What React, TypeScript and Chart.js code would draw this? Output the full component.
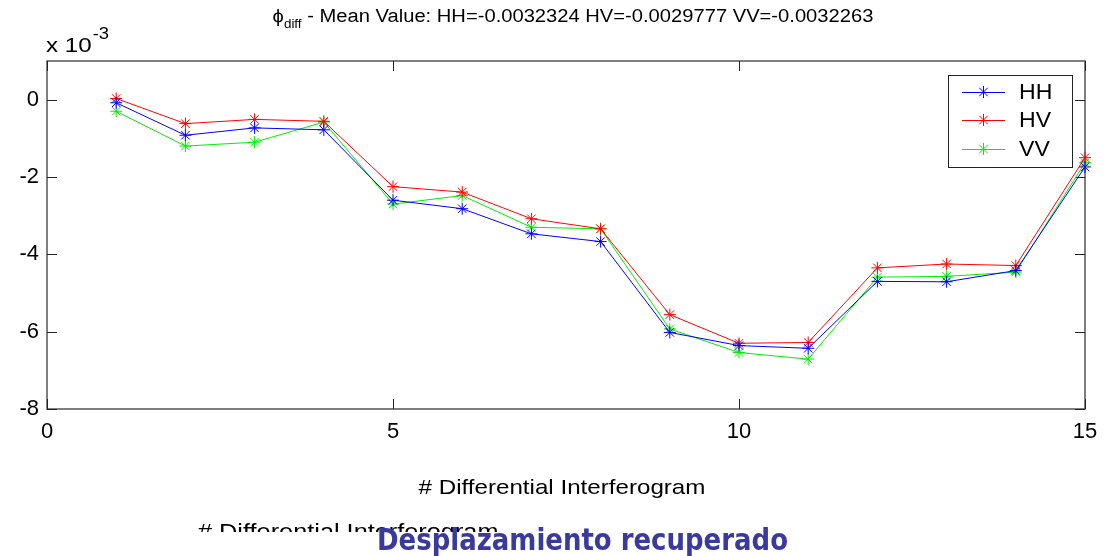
import React, { useEffect, useRef } from "react";
import { Chart, registerables } from "chart.js";

Chart.register(...registerables);

const interferograms = [1, 2, 3, 4, 5, 6, 7, 8, 9, 10, 11, 12, 13, 14, 15];
// values in units of 10^-3
const hhValues = [-0.08, -0.92, -0.73, -0.78, -2.6, -2.82, -3.47, -3.67, -6.02, -6.36, -6.43, -4.7, -4.71, -4.42, -1.74];
const hvValues = [0.03, -0.62, -0.51, -0.56, -2.25, -2.39, -3.08, -3.34, -5.56, -6.3, -6.28, -4.35, -4.25, -4.29, -1.5];
const vvValues = [-0.3, -1.2, -1.1, -0.58, -2.7, -2.48, -3.3, -3.34, -5.93, -6.54, -6.71, -4.59, -4.57, -4.46, -1.63];
const seriesNames = ["HH", "HV", "VV"];
const seriesColors = ["#0000ff", "#ff0000", "#00ee00"];
const xTicks = [0, 5, 10, 15];
const yTicks = [-8, -6, -4, -2, 0];
const titleMeans = ["-0.0032324", "-0.0029777", "-0.0032263"];

const FONT = "'Liberation Sans', Arial, sans-serif";
const SX = 1.15; // horizontal stretch of the text in the reference
const TITLE_SX = 1.12;

function stretchedText(ctx: any, text: string, x: number, y: number, align: string, sx: number) {
  const w = ctx.measureText(text).width * sx;
  let left = x;
  if (align === "center") left = x - w / 2;
  else if (align === "right") left = x - w;
  ctx.save();
  ctx.textAlign = "left";
  ctx.translate(left, y);
  ctx.scale(sx, 1);
  ctx.fillText(text, 0, 0);
  ctx.restore();
  return w;
}

const decorPlugin = {
  id: "decor",
  beforeDatasetsDraw(chart: any) {
    const { ctx, chartArea: a, scales } = chart;
    ctx.save();
    ctx.strokeStyle = "#555";
    ctx.lineWidth = 1.5;
    ctx.strokeRect(a.left, a.top, a.right - a.left, a.bottom - a.top);
    ctx.lineWidth = 1;
    ctx.strokeStyle = "#222";
    const tl = 10;
    for (const v of xTicks) {
      const x = Math.round(scales.x.getPixelForValue(v)) + 0.5;
      ctx.beginPath();
      ctx.moveTo(x, a.bottom);
      ctx.lineTo(x, a.bottom - tl);
      ctx.moveTo(x, a.top);
      ctx.lineTo(x, a.top + tl);
      ctx.stroke();
    }
    for (const v of yTicks) {
      const y = Math.round(scales.y.getPixelForValue(v)) + 0.5;
      ctx.beginPath();
      ctx.moveTo(a.left, y);
      ctx.lineTo(a.left + tl, y);
      ctx.moveTo(a.right, y);
      ctx.lineTo(a.right - tl, y);
      ctx.stroke();
    }
    ctx.restore();
  },
  afterDraw(chart: any) {
    const { ctx } = chart;
    ctx.save();
    ctx.fillStyle = "#000";
    ctx.textBaseline = "alphabetic";
    ctx.textAlign = "left";

    // Title
    const mainFont = `18px ${FONT}`;
    const subFont = `12px ${FONT}`;
    const rest = ` - Mean Value: HH=${titleMeans[0]} HV=${titleMeans[1]} VV=${titleMeans[2]}`;
    ctx.font = mainFont;
    const wPhi = ctx.measureText("\u03d5").width * TITLE_SX;
    const wRest = ctx.measureText(rest).width * TITLE_SX;
    ctx.font = subFont;
    const wSub = ctx.measureText("diff").width * TITLE_SX;
    const total = wPhi + wSub + wRest;
    let tx = 573 - total / 2;
    ctx.font = mainFont;
    stretchedText(ctx, "\u03d5", tx, 22, "left", TITLE_SX);
    tx += wPhi;
    ctx.font = subFont;
    stretchedText(ctx, "diff", tx, 28, "left", TITLE_SX);
    tx += wSub;
    ctx.font = mainFont;
    stretchedText(ctx, rest, tx, 22, "left", TITLE_SX);

    // exponent label
    ctx.font = `21px ${FONT}`;
    const w10 = stretchedText(ctx, "x 10", 46, 52, "left", SX);
    ctx.font = `16px ${FONT}`;
    stretchedText(ctx, "-3", 46 + w10 + 1, 39, "left", SX);

    // x-axis title
    ctx.font = `21px ${FONT}`;
    stretchedText(ctx, "# Differential Interferogram", 562, 494, "center", SX);

    // ghost clipped text
    ctx.save();
    ctx.beginPath();
    ctx.rect(0, 500, 1113, 32);
    ctx.clip();
    ctx.font = `22px ${FONT}`;
    stretchedText(ctx, "# Differential Interferogram", 198, 539, "left", SX);
    ctx.restore();

    // Blue caption
    ctx.save();
    ctx.font = `bold 31px 'DejaVu Sans', sans-serif`;
    const cap = "Desplazamiento recuperado";
    const wc = ctx.measureText(cap).width;
    ctx.fillStyle = "#3a3a9e";
    stretchedText(ctx, cap, 377, 550, "left", 411 / wc);
    ctx.restore();

    // Legend
    const lx = 948, ly = 75, lw = 124, lh = 92;
    ctx.fillStyle = "#fff";
    ctx.fillRect(lx, ly, lw, lh);
    ctx.strokeStyle = "#222";
    ctx.lineWidth = 1;
    ctx.strokeRect(lx + 0.5, ly + 0.5, lw, lh);
    const rows = [92, 120, 149];
    ctx.font = `22px ${FONT}`;
    ctx.textBaseline = "middle";
    for (let i = 0; i < 3; i++) {
      const y = rows[i];
      ctx.strokeStyle = seriesColors[i];
      ctx.beginPath();
      ctx.moveTo(962, y + 0.5);
      ctx.lineTo(1005, y + 0.5);
      ctx.stroke();
      const r = 6;
      ctx.beginPath();
      ctx.moveTo(983.5 - r, y + 0.5);
      ctx.lineTo(983.5 + r, y + 0.5);
      ctx.moveTo(983.5, y - r);
      ctx.lineTo(983.5, y + r);
      const d = r * 0.707;
      ctx.moveTo(983.5 - d, y - d);
      ctx.lineTo(983.5 + d, y + d);
      ctx.moveTo(983.5 - d, y + d);
      ctx.lineTo(983.5 + d, y - d);
      ctx.stroke();
      ctx.fillStyle = "#000";
      stretchedText(ctx, seriesNames[i], 1019, y + 1, "left", 1.05);
    }
    ctx.restore();
  },
};

export default function App() {
  const ref = useRef<HTMLCanvasElement | null>(null);
  useEffect(() => {
    if (!ref.current) return;
    const all = [hhValues, hvValues, vvValues];
    const chart = new Chart(ref.current, {
      type: "line",
      data: {
        datasets: all.map((vals, i) => ({
          label: seriesNames[i],
          data: interferograms.map((x, j) => ({ x, y: vals[j] })),
          borderColor: seriesColors[i],
          backgroundColor: seriesColors[i],
          borderWidth: 1,
          pointStyle: "star",
          pointRadius: 6,
          pointBorderWidth: 1,
          pointBorderColor: seriesColors[i],
          tension: 0,
          fill: false,
          clip: false as any,
        })),
      },
      options: {
        responsive: false,
        animation: false,
        layout: { padding: { top: 61, right: 28, left: 0, bottom: 0 } },
        plugins: { legend: { display: false }, tooltip: { enabled: false }, title: { display: false } },
        scales: {
          x: {
            type: "linear",
            min: 0,
            max: 15,
            grid: { display: false },
            border: { display: false },
            ticks: { stepSize: 5, padding: 2, color: "#000", font: { family: FONT, size: 22 }, maxRotation: 0 },
            afterFit: (s: any) => { s.height = 147; },
          },
          y: {
            type: "linear",
            min: -8,
            max: 1,
            grid: { display: false },
            border: { display: false },
            ticks: { stepSize: 2, padding: 0, color: "#000", font: { family: FONT, size: 22 } },
            afterBuildTicks: (s: any) => { s.ticks = s.ticks.filter((t: any) => yTicks.includes(t.value)); },
            afterFit: (s: any) => { s.width = 47; },
          },
        },
      },
      plugins: [decorPlugin],
    });
    return () => chart.destroy();
  }, []);
  return (
    <div style={{ position: "fixed", left: 0, top: 0, width: 1113, height: 556, background: "#fff" }}>
      <canvas ref={ref} width={1113} height={556} style={{ display: "block" }} />
    </div>
  );
}
